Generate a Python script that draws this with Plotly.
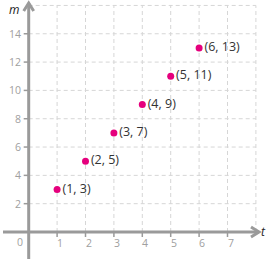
import plotly.graph_objects as go

t_vals = [1, 2, 3, 4, 5, 6]
m_vals = [3, 5, 7, 9, 11, 13]
point_labels = ["(1, 3)", "(2, 5)", "(3, 7)", "(4, 9)", "(5, 11)", "(6, 13)"]
x_ticks = [1, 2, 3, 4, 5, 6, 7]
y_ticks = [2, 4, 6, 8, 10, 12, 14]
x_grid = [1, 2, 3, 4, 5, 6, 7, 8]
y_grid = [2, 4, 6, 8, 10, 12, 14, 16]

W, H = 267, 263
X0PX, XU = 28.7, 28.4
Y0PX, YU = 232.0, 14.16
xr = [-X0PX / XU, (W - X0PX) / XU]
yr = [(Y0PX - H) / YU, Y0PX / YU]

def dx(px):
    return px / XU

def dy(px):
    return px / YU

AX = "#9a9a9a"
GRID = "#d6d6d6"
PINK = "#e5007d"

shapes = []
for g in x_grid:
    shapes.append(dict(type="line", x0=g, x1=g, y0=0, y1=16, line=dict(color=GRID, width=1, dash="4px,3px"), layer="below"))
for g in y_grid:
    shapes.append(dict(type="line", x0=0, x1=8, y0=g, y1=g, line=dict(color=GRID, width=1, dash="4px,3px"), layer="below"))

# ticks
for v in x_ticks:
    shapes.append(dict(type="line", x0=v, x1=v, y0=0, y1=-dy(5), line=dict(color=AX, width=1.5)))
for v in y_ticks:
    shapes.append(dict(type="line", x0=-dx(5), x1=0, y0=v, y1=v, line=dict(color=AX, width=1.5)))

# axes
x_end = dx(259 - X0PX)
y_top = dy(Y0PX - 3)
shapes.append(dict(type="line", x0=-dx(X0PX - 3), x1=x_end, y0=0, y1=0, line=dict(color=AX, width=3)))
shapes.append(dict(type="line", x0=0, x1=0, y0=-dy(259 - Y0PX), y1=y_top, line=dict(color=AX, width=3)))
# arrowheads (chevrons)
shapes.append(dict(type="path",
                   path=f"M {-dx(5)},{y_top - dy(8)} L 0,{y_top} L {dx(5)},{y_top - dy(8)}",
                   line=dict(color=AX, width=3)))
shapes.append(dict(type="path",
                   path=f"M {x_end - dx(8)},{dy(5)} L {x_end},0 L {x_end - dx(8)},{-dy(5)}",
                   line=dict(color=AX, width=3)))

annotations = []
for v in x_ticks:
    annotations.append(dict(x=v + dx(3), y=-dy(11), text=str(v), showarrow=False,
                            xanchor="center", yanchor="middle", font=dict(size=10.5, color="#a0a0a0", family="Open Sans")))
annotations.append(dict(x=-dx(9), y=-dy(10), text="0", showarrow=False,
                        xanchor="center", yanchor="middle", font=dict(size=10.5, color="#a0a0a0", family="Open Sans")))
for v in y_ticks:
    annotations.append(dict(x=-dx(6), y=v, text=str(v), showarrow=False,
                            xanchor="right", yanchor="middle", font=dict(size=10.5, color="#a0a0a0", family="Open Sans")))
annotations.append(dict(x=-dx(15), y=dy(Y0PX - 9), text="<i>m</i>", showarrow=False,
                        xanchor="center", yanchor="middle", font=dict(size=12, color="#222", family="Open Sans")))
annotations.append(dict(x=dx(263 - X0PX), y=dy(1), text="<i>t</i>", showarrow=False,
                        xanchor="center", yanchor="middle", font=dict(size=12, color="#222", family="Open Sans")))

fig = go.Figure()
fig.add_trace(go.Scatter(x=t_vals, y=m_vals, mode="markers+text", text=point_labels,
                         textposition="middle right",
                         marker=dict(color=PINK, size=7),
                         textfont=dict(size=12.5, color="#333", family="Open Sans"),
                         cliponaxis=False, hoverinfo="skip"))

fig.update_layout(width=W, height=H, margin=dict(l=0, r=0, t=0, b=0),
                  paper_bgcolor="white", plot_bgcolor="white", showlegend=False,
                  shapes=shapes, annotations=annotations)
fig.update_xaxes(range=xr, visible=False, fixedrange=True)
fig.update_yaxes(range=yr, visible=False, fixedrange=True)
fig.write_html("out.html")
